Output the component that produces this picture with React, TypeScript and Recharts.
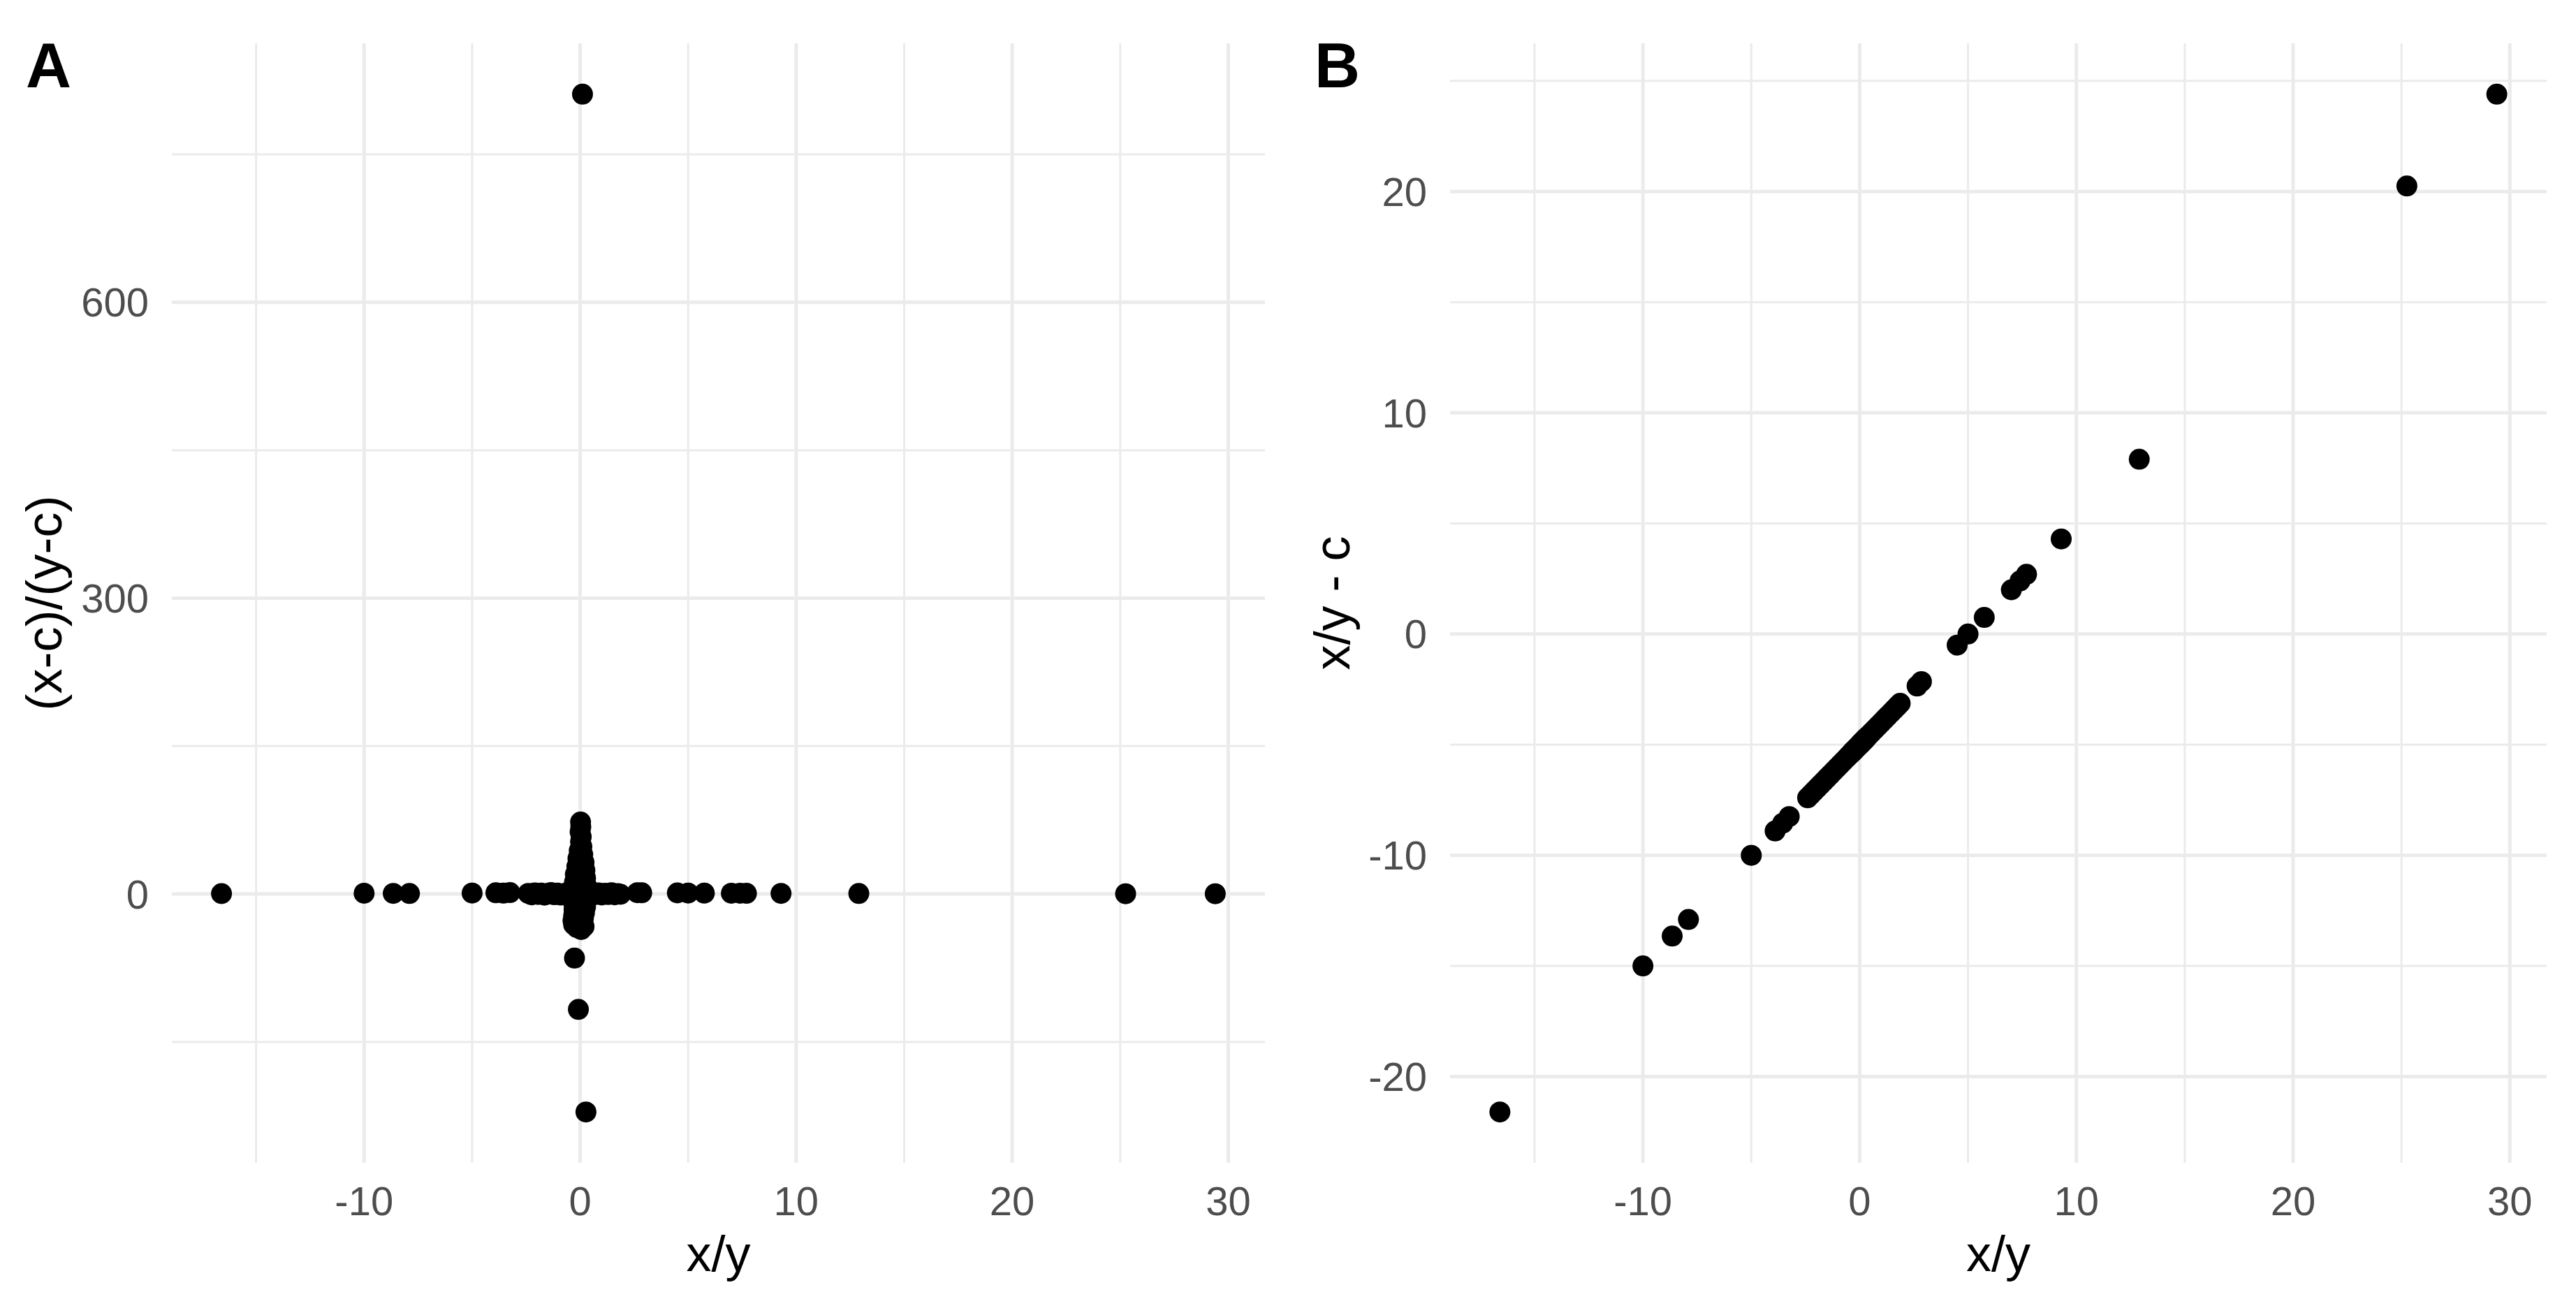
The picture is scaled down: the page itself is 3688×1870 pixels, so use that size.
import React from 'react';
import { ScatterChart, Scatter, XAxis, YAxis, CartesianGrid } from 'recharts';

// x/y ratio for every observation (shared by both panels)
const ratio = [
  -16.6, -10.0, -8.65, -7.9, -5.0, -3.9, -3.55, -3.25,
  -2.4, -2.25, -2.1, -1.95, -1.8, -1.65, -1.5, -1.35, -1.2, -1.05, -0.9, -0.75, -0.6, -0.48, -0.38,
  0.42, 0.55, 0.7, 0.85, 1.0, 1.15, 1.3, 1.45, 1.6, 1.75, 1.87,
  0.02, 0.03, 0.0, 0.05, 0.02, 0.08, -0.04, 0.12, -0.1, 0.18, -0.15, 0.22, -0.22, 0.25, -0.26, 0.3,
  -0.3, 0.32, -0.33, 0.3, -0.3, 0.25, -0.28, 0.2, -0.3, 0.15, -0.33, 0.1, -0.3, -0.15, 0.05, 0.18,
  -0.26, -0.08, 0.27, 0.11,
  2.65, 2.85, 4.5, 5.0, 5.75, 7.0, 7.4, 7.7, 9.3, 12.9, 25.25, 29.4,
];

// Panel A: (x-c)/(y-c)
const valuesA = [
  0.4, 0.8, 0.6, 0.5, 1.0, 1.2, 0.9, 1.4,
  0.6, -0.8, 1.1, -0.4, 0.9, -1.2, 0.5, 1.4, -0.7, 1.0, -1.1, 0.3, 1.5, -0.9, 1.2,
  -1.3, 0.8, -0.6, 1.1, -1.0, 0.7, -0.5, 1.2, -0.8, 0.4, -0.3,
  73, 68, 63, 58, 53, 48, 44, 40, 36, 32, 28, 24, 20, 16, 12, 8,
  5, 2, -2, -6, -9, -13, -16, -19, -22, -25, -27, -30, -31, -34, -36, -33,
  -65, -117, -221, 811,
  1.3, 1.2, 1.1, 1.0, 0.9, 0.8, 0.8, 0.7, 0.6, 0.5, 0.3, 0.3,
];

// Panel B: x/y - c
const valuesB = [
  -21.6, -15.0, -13.65, -12.9, -10.0, -8.9, -8.55, -8.25,
  -7.4, -7.25, -7.1, -6.95, -6.8, -6.65, -6.5, -6.35, -6.2, -6.05, -5.9, -5.75, -5.6, -5.48, -5.38,
  -4.58, -4.45, -4.3, -4.15, -4.0, -3.85, -3.7, -3.55, -3.4, -3.25, -3.13,
  -4.98, -4.97, -5.0, -4.95, -4.98, -4.92, -5.04, -4.88, -5.1, -4.82, -5.15, -4.78, -5.22, -4.75, -5.26, -4.7,
  -5.3, -4.68, -5.33, -4.7, -5.3, -4.75, -5.28, -4.8, -5.3, -4.85, -5.33, -4.9, -5.3, -5.15, -4.95, -4.82,
  -5.26, -5.08, -4.73, -4.89,
  -2.35, -2.15, -0.5, 0.0, 0.75, 2.0, 2.4, 2.7, 4.3, 7.9, 20.25, 24.4,
];

const xTicks = [-10, 0, 10, 20, 30];
const xMinor = [-15, -5, 5, 15, 25];
const yTicksA = [0, 300, 600];
const yMinorA = [-150, 150, 450, 750];
const yTicksB = [-20, -10, 0, 10, 20];
const yMinorB = [-15, -5, 5, 15, 25];

const xLabel = 'x/y';
const yLabelA = '(x-c)/(y-c)';
const yLabelB = 'x/y - c';

const FONT = '"Liberation Sans", Arial, Helvetica, sans-serif';
const GRID = '#ebebeb';

const dataA = ratio.map((r, i) => ({ x: r, y: valuesA[i] }));
const dataB = ratio.map((r, i) => ({ x: r, y: valuesB[i] }));

const Dot = (props: any) => {
  const { cx, cy } = props;
  if (cx == null || cy == null) return null;
  return <circle cx={cx} cy={cy} r={15} fill="#000000" />;
};

type PanelProps = {
  data: { x: number; y: number }[];
  xDomain: [number, number];
  yDomain: [number, number];
  yTicks: number[];
  yMinor: number[];
  yLabel: string;
  yAxisWidth: number;
  rightMargin: number;
};

const Panel = ({ data, xDomain, yDomain, yTicks, yMinor, yLabel, yAxisWidth, rightMargin }: PanelProps) => (
  <ScatterChart
    width={1844}
    height={1870}
    margin={{ top: 62, right: rightMargin, bottom: 0, left: 0 }}
    style={{ fontFamily: FONT }}
  >
    <CartesianGrid
      stroke={GRID}
      strokeWidth={3}
      horizontalValues={yMinor}
      verticalValues={xMinor}
    />
    <CartesianGrid
      stroke={GRID}
      strokeWidth={5}
      horizontalValues={yTicks}
      verticalValues={xTicks}
    />
    <XAxis
      type="number"
      dataKey="x"
      domain={xDomain}
      ticks={xTicks}
      allowDataOverflow
      axisLine={false}
      tickLine={false}
      tickSize={0}
      tickMargin={34}
      height={205}
      tick={{ fill: '#4d4d4d', fontSize: 58, fontFamily: FONT }}
      label={{ value: xLabel, position: 'insideBottom', offset: 50, fill: '#000000', fontSize: 72, fontFamily: FONT }}
    />
    <YAxis
      type="number"
      dataKey="y"
      domain={yDomain}
      ticks={yTicks}
      allowDataOverflow
      axisLine={false}
      tickLine={false}
      tickSize={0}
      tickMargin={33}
      width={yAxisWidth}
      tick={{ fill: '#4d4d4d', fontSize: 58, fontFamily: FONT }}
      label={{
        value: yLabel,
        angle: -90,
        position: 'insideLeft',
        offset: 62,
        fill: '#000000',
        fontSize: 72,
        fontFamily: FONT,
        style: { textAnchor: 'middle' },
      }}
    />
    <Scatter data={data} fill="#000000" shape={Dot} isAnimationActive={false} />
  </ScatterChart>
);

export default function App() {
  return (
    <div style={{ position: 'absolute', left: 0, top: 0, width: 3688, height: 1870, background: '#ffffff' }}>
      <div style={{ position: 'absolute', left: 0, top: 0 }}>
        <Panel
          data={dataA}
          xDomain={[-18.9, 31.7]}
          yDomain={[-272.6, 862.6]}
          yTicks={yTicksA}
          yMinor={yMinorA}
          yLabel={yLabelA}
          yAxisWidth={246}
          rightMargin={33}
        />
      </div>
      <div style={{ position: 'absolute', left: 1844, top: 0 }}>
        <Panel
          data={dataB}
          xDomain={[-18.9, 31.7]}
          yDomain={[-23.9, 26.7]}
          yTicks={yTicksB}
          yMinor={yMinorB}
          yLabel={yLabelB}
          yAxisWidth={232}
          rightMargin={42}
        />
      </div>
      <svg
        width={3688}
        height={1870}
        style={{ position: 'absolute', left: 0, top: 0, pointerEvents: 'none' }}
      >
        <text x={37} y={125} fontSize={90} fontWeight="bold" fontFamily={FONT} fill="#000000">A</text>
        <text x={1882} y={125} fontSize={90} fontWeight="bold" fontFamily={FONT} fill="#000000">B</text>
      </svg>
    </div>
  );
}
